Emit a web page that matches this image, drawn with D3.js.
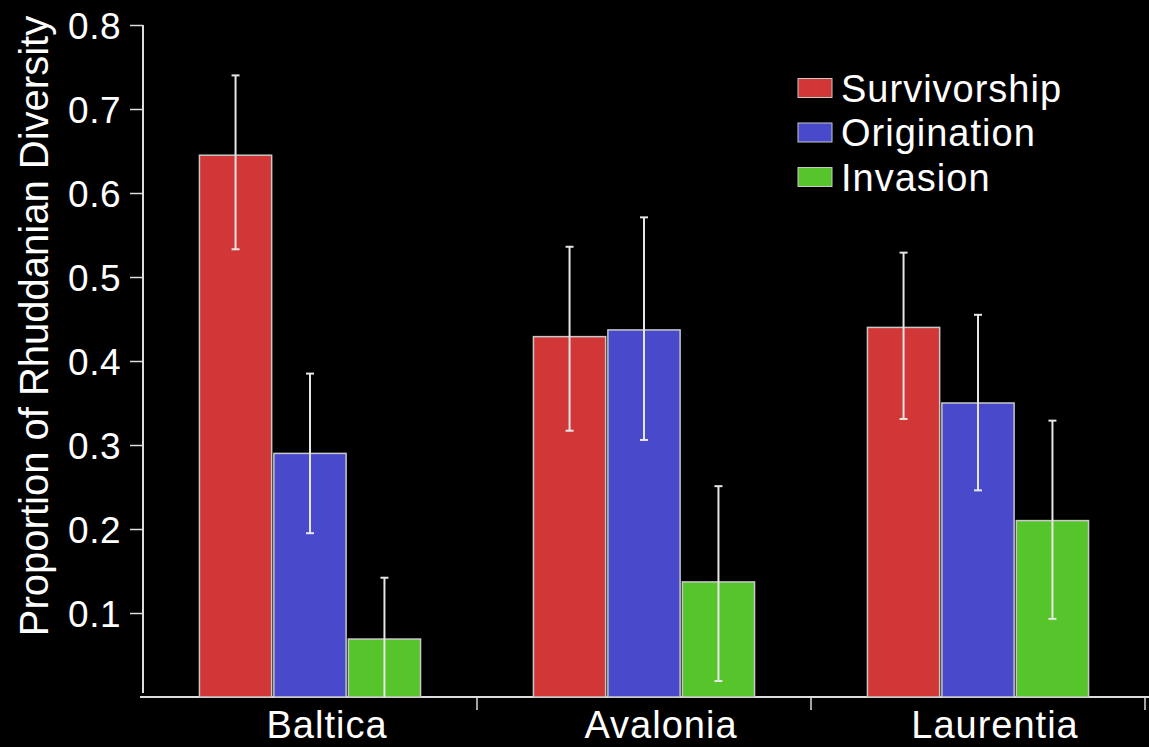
<!DOCTYPE html>
<html>
<head>
<meta charset="utf-8">
<script src="https://cdnjs.cloudflare.com/ajax/libs/d3/7.8.5/d3.min.js"></script>
<style>
    html, body { margin: 0; padding: 0; background: #000; }
    text { font-family: "Liberation Sans", Arial, Helvetica, sans-serif; fill: #fff; }
</style>
</head>
<body>
<div id="chart"></div>
<script>
var regions = ["Baltica", "Avalonia", "Laurentia"];
var seriesNames = ["Survivorship", "Origination", "Invasion"];
var seriesColors = ["#d13737", "#4949cb", "#56c52b"];

var survivorship = [0.645, 0.429, 0.440],
    survivorshipLow = [0.533, 0.317, 0.331],
    survivorshipHigh = [0.740, 0.536, 0.529];
var origination = [0.290, 0.437, 0.350],
    originationLow = [0.195, 0.306, 0.246],
    originationHigh = [0.385, 0.571, 0.455];
var invasion = [0.069, 0.137, 0.210],
    invasionLow = [0.0, 0.019, 0.093],
    invasionHigh = [0.142, 0.251, 0.329];

var yTicks = [0.1, 0.2, 0.3, 0.4, 0.5, 0.6, 0.7, 0.8];

var w = 1149,
    h = 747,
    margin = {top: 25, bottom: 50, left: 143, right: 4};

var width = w - margin.left - margin.right,
    height = h - margin.top - margin.bottom;

var svg = d3.select("#chart").append("svg")
    .attr("width", w)
    .attr("height", h)
    .style("background", "#000");

var chart = svg.append("g")
    .attr("transform", "translate(" + margin.left + "," + margin.top + ")");

// build rows from the arrays
var values = [survivorship, origination, invasion],
    lows = [survivorshipLow, originationLow, invasionLow],
    highs = [survivorshipHigh, originationHigh, invasionHigh];

var data = regions.map(function (r, i) {
    return {
        region: r,
        bars: seriesNames.map(function (s, j) {
            return {series: s, color: seriesColors[j], value: values[j][i], low: lows[j][i], high: highs[j][i]};
        })
    };
});

var x0 = d3.scaleBand()
    .domain(regions)
    .range([0, width])
    .paddingInner(0.338)
    .paddingOuter(0.169);

var x1 = d3.scaleBand()
    .domain(seriesNames)
    .range([0, x0.bandwidth()])
    .paddingInner(0.03);

var y = d3.scaleLinear()
    .domain([0, 0.8])
    .range([height, 0]);

// y axis
var yAxis = d3.axisLeft(y)
    .tickValues(yTicks)
    .tickFormat(d3.format(".1f"))
    .tickSize(13)
    .tickSizeOuter(0)
    .tickPadding(9);

var yG = chart.append("g")
    .classed("axis y", true)
    .call(yAxis);
yG.select(".domain").attr("stroke", "#ddd").attr("stroke-width", 2)
    .attr("d", "M0," + y(0.8) + "V" + (y(0) - 4));
yG.selectAll(".tick line").attr("stroke", "#ddd").attr("stroke-width", 1.5);
yG.selectAll(".tick text")
    .style("font-size", "37px")
    .style("letter-spacing", "0.5px")
    .attr("fill", "#fff")
    .attr("dy", "0.36em");

// y label
chart.append("text")
    .attr("transform", "translate(" + (48 - margin.left) + "," + (326 - margin.top) + ") rotate(-90)")
    .style("text-anchor", "middle")
    .style("font-size", "40px")
    .text("Proportion of Rhuddanian Diversity");

// x axis
var xG = chart.append("g")
    .classed("axis x", true)
    .attr("transform", "translate(0," + height + ")");
xG.append("line")
    .attr("x1", -3)
    .attr("x2", w - margin.left)
    .attr("stroke", "#ddd")
    .attr("stroke-width", 2);
xG.selectAll(".bound")
    .data(regions)
    .enter()
    .append("line")
    .classed("bound", true)
    .attr("x1", function (d) { return x0(d) + x0.bandwidth() + x0.step() * x0.paddingInner() / 2; })
    .attr("x2", function (d) { return x0(d) + x0.bandwidth() + x0.step() * x0.paddingInner() / 2; })
    .attr("y1", 0)
    .attr("y2", 13)
    .attr("stroke", "#ddd")
    .attr("stroke-width", 1.5);
xG.selectAll(".xlabel")
    .data(regions)
    .enter()
    .append("text")
    .classed("xlabel", true)
    .attr("x", function (d) { return x0(d) + x0.bandwidth() / 2 + 17; })
    .attr("y", 41)
    .style("text-anchor", "middle")
    .style("font-size", "38px")
    .style("letter-spacing", "1px")
    .text(function (d) { return d; });

// bars
var groups = chart.selectAll(".region")
    .data(data)
    .enter()
    .append("g")
    .classed("region", true)
    .attr("transform", function (d) { return "translate(" + x0(d.region) + ",0)"; });

groups.selectAll(".bar")
    .data(function (d) { return d.bars; })
    .enter()
    .append("rect")
    .classed("bar", true)
    .attr("x", function (d) { return x1(d.series); })
    .attr("y", function (d) { return y(d.value); })
    .attr("width", x1.bandwidth())
    .attr("height", function (d) { return y(0) - y(d.value); })
    .attr("fill", function (d) { return d.color; })
    .attr("stroke", "#c8c8c8")
    .attr("stroke-width", 1.5);

// error bars
var err = groups.selectAll(".err")
    .data(function (d) { return d.bars; })
    .enter()
    .append("g")
    .classed("err", true)
    .attr("transform", function (d) { return "translate(" + (x1(d.series) + x1.bandwidth() / 2) + ",0)"; });

err.append("line")
    .attr("y1", function (d) { return y(d.high); })
    .attr("y2", function (d) { return y(d.low); })
    .attr("stroke", "#e6e6e6")
    .attr("stroke-width", 2);
err.append("line")
    .attr("x1", -4).attr("x2", 4)
    .attr("y1", function (d) { return y(d.high); })
    .attr("y2", function (d) { return y(d.high); })
    .attr("stroke", "#e6e6e6")
    .attr("stroke-width", 2);
err.filter(function (d) { return d.low > 0; })
    .append("line")
    .attr("x1", -4).attr("x2", 4)
    .attr("y1", function (d) { return y(d.low); })
    .attr("y2", function (d) { return y(d.low); })
    .attr("stroke", "#e6e6e6")
    .attr("stroke-width", 2);

// legend
var legend = svg.append("g")
    .attr("transform", "translate(798,88)");
var items = legend.selectAll(".item")
    .data(seriesNames)
    .enter()
    .append("g")
    .classed("item", true)
    .attr("transform", function (d, i) { return "translate(0," + (i * 44.5) + ")"; });
items.append("rect")
    .attr("x", 0)
    .attr("y", -9.5)
    .attr("width", 34)
    .attr("height", 19)
    .attr("fill", function (d, i) { return seriesColors[i]; })
    .attr("stroke", "#c8c8c8")
    .attr("stroke-width", 1);
items.append("text")
    .attr("x", 43)
    .attr("dy", "0.36em")
    .style("font-size", "38px")
    .style("letter-spacing", "1px")
    .text(function (d) { return d; });
</script>
</body>
</html>
